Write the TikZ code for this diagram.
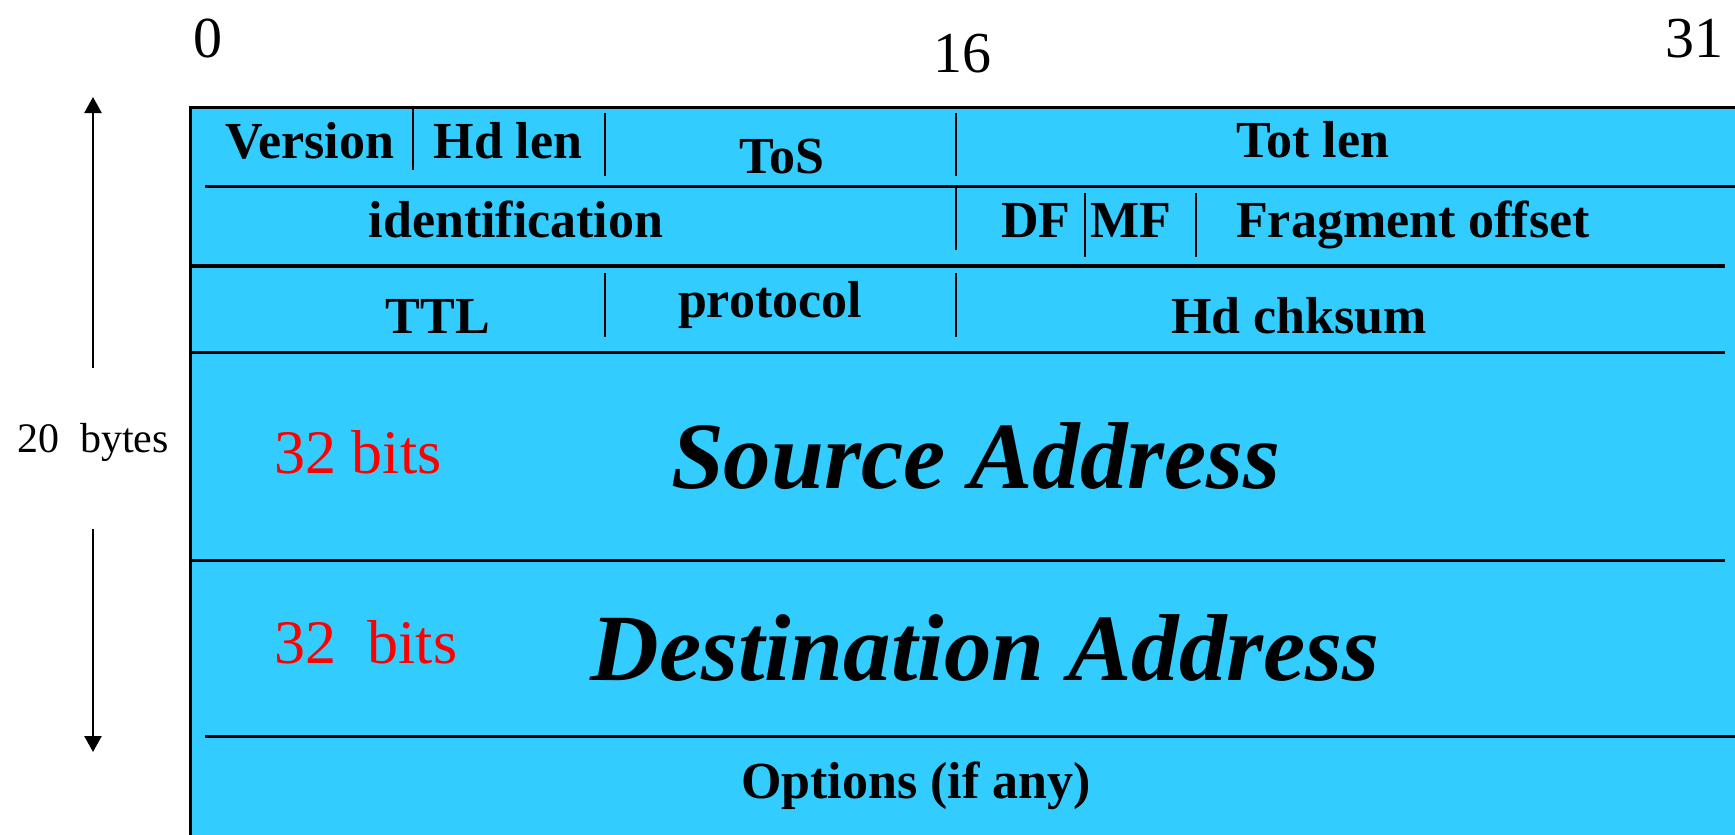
\documentclass[tikz,border=0pt]{standalone}
\usepackage{fontspec}
\setmainfont{Liberation Serif}
\usetikzlibrary{arrows.meta}
\definecolor{hdrblue}{HTML}{33CCFF}
\definecolor{bitred}{HTML}{FF0000}
\begin{document}
\begin{tikzpicture}[x=1pt,y=-1pt,
  rowline/.style={line width=3.3pt},
  sepline/.style={line width=2pt},
  fld/.style={font=\fontsize{52}{60}\selectfont\bfseries, anchor=base, inner sep=0pt},
  bignum/.style={font=\fontsize{58}{66}\selectfont, anchor=base, inner sep=0pt},
  bits/.style={font=\fontsize{62}{70}\selectfont, text=bitred, anchor=base, inner sep=0pt},
  addr/.style={font=\fontsize{95}{110}\selectfont\bfseries\itshape, anchor=base, inner sep=0pt},
  sidelbl/.style={font=\fontsize{42}{50}\selectfont, anchor=base, inner sep=0pt},
  arr/.style={line width=2.5pt, -{Triangle[length=16pt,width=17pt]}}]
\useasboundingbox (0,0) rectangle (1735,835);
\clip (0,0) rectangle (1735,835);
% header block
\fill[hdrblue] (190,107) rectangle (1760,860);
\draw[line width=3pt] (190,860) -- (190,107.5) -- (1760,107.5);
% row lines
\draw[rowline] (205,186.7) -- (1740,186.7);
\draw[rowline] (190,266) -- (1725,266);
\draw[rowline] (190,352.7) -- (1725,352.7);
\draw[rowline] (190,560.7) -- (1725,560.7);
\draw[rowline] (205,736.7) -- (1740,736.7);
% separators
\draw[sepline] (413,107) -- (413,170);
\draw[sepline] (605,113) -- (605,176);
\draw[sepline] (956,113) -- (956,176);
\draw[sepline] (956,188) -- (956,250);
\draw[sepline] (1085,193) -- (1085,257);
\draw[sepline] (1196,193) -- (1196,257);
\draw[sepline] (605,273) -- (605,337);
\draw[sepline] (956,273) -- (956,337);
% bit numbers
\node[bignum] (n0) at (208,57) {0};
\node[bignum] (n16) at (962,72) {16};
\node[bignum] (n31) at (1694,57) {31};
% fields
\node[fld] (ver) at (310,158) {Version};
\node[fld] (hdl) at (508,158) {Hd len};
\node[fld] (tos) at (782,173) {ToS};
\node[fld] (totl) at (1313,157) {Tot len};
\node[fld] (ident) at (516,237) {identification};
\node[fld] (df) at (1036,237) {DF};
\node[fld] (mf) at (1131,237) {MF};
\node[fld] (frag) at (1413,237) {Fragment offset};
\node[fld] (ttl) at (438,333) {TTL};
\node[fld] (proto) at (770,317) {protocol};
\node[fld] (chk) at (1299,333) {Hd chksum};
\node[bits] (sbits) at (358,473) {32 bits};
\node[addr] (src) at (976,488) {Source Address};
\node[bits] (dbits) at (366,663) {32\ \ bits};
\node[addr] (dst) at (985,680) {Destination Address};
\node[fld] (opt) at (916,798) {Options (if any)};
% side label and arrows
\node[sidelbl] (bytes) at (93,452) {20\ \ bytes};
\coordinate (uptop) at (93,97);
\coordinate (upbot) at (93,368);
\coordinate (dntop) at (93,529);
\coordinate (dnbot) at (93,752);
\draw[arr] (upbot) -- (uptop);
\draw[arr] (dntop) -- (dnbot);
\end{tikzpicture}
\end{document}
